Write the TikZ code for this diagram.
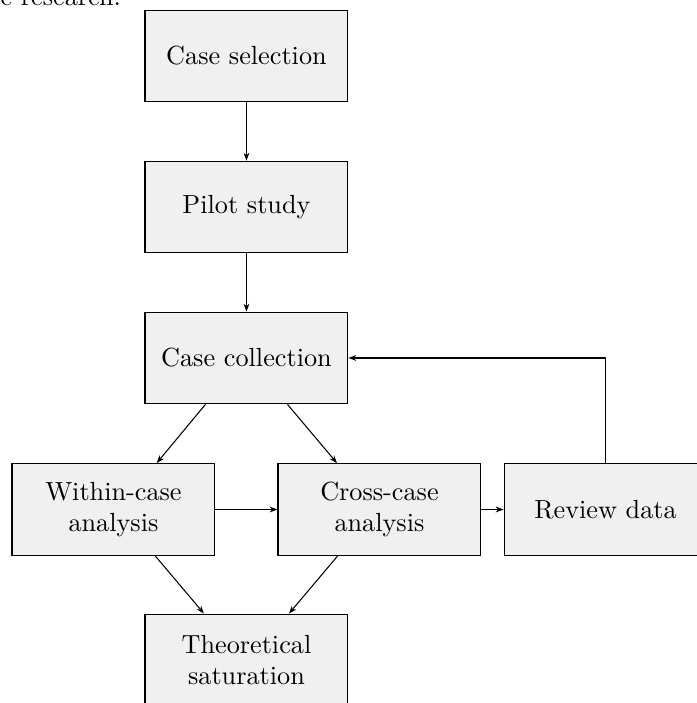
\documentclass[tikz,border=0pt]{standalone}
\usetikzlibrary{arrows.meta}

\begin{document}
\begin{tikzpicture}[
  box/.style={draw,fill=gray!12,align=center,minimum width=2.72cm,minimum height=1.23cm,inner sep=2pt},
  arr/.style={-{Stealth[length=3pt,width=2.2pt]}}]
\useasboundingbox (0,0) rectangle (9.343,-9.424);
\node[anchor=base west,inner sep=0] (prev) at (0,-0.08) {e research.};
\node[box] (sel) at (3.304,-0.751) {Case selection};
\node[box] (pilot) at (3.304,-2.775) {Pilot study};
\node[box] (coll) at (3.304,-4.799) {Case collection};
\node[box] (within) at (1.521,-6.83) {Within-case\\analysis};
\node[box] (cross) at (5.087,-6.83) {Cross-case\\analysis};
\node[box] (review) at (8.117,-6.83) {Review data};
\node[box] (theo) at (3.304,-8.847) {Theoretical\\saturation};
\draw[arr] (sel) -- (pilot);
\draw[arr] (pilot) -- (coll);
\draw[arr] ([xshift=-5.5mm]coll.south) -- ([xshift=5.8mm]within.north);
\draw[arr] ([xshift=5.5mm]coll.south) -- ([xshift=-5.7mm]cross.north);
\draw[arr] (within) -- (cross);
\draw[arr] (cross) -- (review);
\draw[arr] (review.north) |- (coll.east);
\draw[arr] ([xshift=5.6mm]within.south) -- ([xshift=-5.7mm]theo.north);
\draw[arr] ([xshift=-5.6mm]cross.south) -- ([xshift=5.7mm]theo.north);
\end{tikzpicture}
\end{document}
